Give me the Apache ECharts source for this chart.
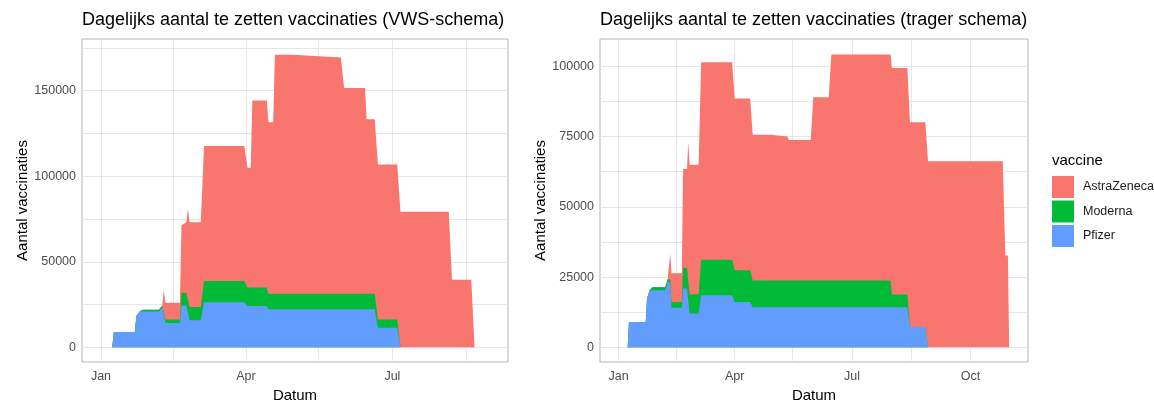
<!DOCTYPE html>
<html><head><meta charset="utf-8">
<script src="https://cdn.jsdelivr.net/npm/echarts@6/dist/echarts.min.js"></script>
<style>html,body{margin:0;padding:0;background:#fff}#c{width:1154px;height:400px}</style>
</head><body><div id="c"></div>
<script>
// ---------- data ----------
const seriesNames = ['Pfizer', 'Moderna', 'AstraZeneca'];   // stacking order (bottom -> top)
const legendOrder = ['AstraZeneca', 'Moderna', 'Pfizer'];
const seriesColors = ['#619CFF', '#00BA38', '#F8766D'];

const titles = ['Dagelijks aantal te zetten vaccinaties (VWS-schema)', 'Dagelijks aantal te zetten vaccinaties (trager schema)'];
const xTitle = 'Datum';
const yTitle = 'Aantal vaccinaties';
const legendTitle = 'vaccine';
const monthNames = ['Jan','Feb','Mar','Apr','May','Jun','Jul','Aug','Sep','Oct','Nov','Dec'];

// VWS-schema
const vwsDates   = ['2021-01-01','2021-01-08','2021-01-09','2021-01-22','2021-01-23','2021-01-25','2021-01-26','2021-01-27','2021-02-06','2021-02-08','2021-02-09','2021-02-10','2021-02-19','2021-02-20','2021-02-23','2021-02-24','2021-02-25','2021-03-04','2021-03-06','2021-03-31','2021-04-02','2021-04-04','2021-04-05','2021-04-14','2021-04-15','2021-04-18','2021-04-19','2021-04-30','2021-05-01','2021-05-14','2021-05-15','2021-05-30','2021-06-01','2021-06-14','2021-06-15','2021-06-20','2021-06-22','2021-07-04','2021-07-06','2021-08-05','2021-08-07','2021-08-19','2021-08-21','2021-08-29'];
const vwsPfizer  = [0,0,8900,8900,18300,21000,21000,21000,21000,23400,23400,14200,14200,24500,24500,24500,15750,15750,26400,26400,24100,24100,24100,24100,22200,22200,22200,22200,22200,22200,22200,22200,22200,22200,22200,22200,11500,11500,0,0,0,0,0,0];
const vwsModerna = [0,0,0,0,0,0,0,1000,1000,1000,1000,2100,2100,7400,7400,7400,7750,7750,12300,12300,10900,10900,10900,10900,9100,9100,9100,9100,9100,9100,9100,9100,9100,9100,9100,9100,4700,4700,0,0,0,0,0,0];
const vwsAstra   = [0,0,0,0,0,0,0,0,0,0,8900,9700,9700,39300,41200,49100,49600,49600,78900,78900,69900,69900,109200,109200,100200,100200,139700,139700,138900,138900,138100,138100,120300,120300,102000,102000,90600,90600,79200,79200,39500,39500,0,0];

// trager schema
const tragerDates   = ['2021-01-01','2021-01-08','2021-01-09','2021-01-22','2021-01-23','2021-01-25','2021-01-26','2021-01-27','2021-02-06','2021-02-08','2021-02-10','2021-02-11','2021-02-19','2021-02-20','2021-02-23','2021-02-24','2021-02-25','2021-03-04','2021-03-06','2021-03-30','2021-04-01','2021-04-13','2021-04-15','2021-04-29','2021-04-30','2021-05-12','2021-05-13','2021-05-30','2021-06-01','2021-06-13','2021-06-15','2021-07-31','2021-08-01','2021-08-13','2021-08-15','2021-08-27','2021-08-29','2021-10-26','2021-10-28','2021-10-30','2021-10-31'];
const tragerPfizer  = [0,0,9000,9000,17300,20300,20300,20300,20300,23200,23200,14100,14100,20900,20900,20900,12000,12000,18500,18500,16100,16100,14300,14300,14300,14300,14300,14300,14300,14300,14300,14300,14300,14300,7200,7200,0,0,0,0,0];
const tragerModerna = [0,0,0,0,0,0,0,1100,1100,1000,1000,2000,2000,7400,7400,7400,6850,6850,12700,12700,11300,11300,9500,9500,9500,9500,9500,9500,9500,9500,9500,9500,4500,4500,0,0,0,0,0,0,0];
const tragerAstra   = [0,0,0,0,0,0,0,0,0,0,9100,10300,10300,35200,35200,44700,46150,46150,70300,70300,61200,61200,51900,51900,51200,51200,50000,50000,65200,65200,80400,80400,80600,80600,72900,72900,66200,66200,32700,32700,0];

// axis breaks
const vwsXLabels    = ['2021-01-01','2021-04-01','2021-07-01'];
const vwsXGrid      = ['2021-01-01','2021-02-15','2021-04-01','2021-05-16','2021-07-01','2021-08-16'];
const tragerXLabels = ['2021-01-01','2021-04-01','2021-07-01','2021-10-01'];
const tragerXGrid   = ['2021-01-01','2021-02-15','2021-04-01','2021-05-16','2021-07-01','2021-08-16','2021-10-01'];
const vwsYLabels    = [0, 50000, 100000, 150000];
const vwsYGrid      = [0, 25000, 50000, 75000, 100000, 125000, 150000, 175000];
const tragerYLabels = [0, 25000, 50000, 75000, 100000];
const tragerYGrid   = [0, 12500, 25000, 37500, 50000, 62500, 75000, 87500, 100000];

// ---------- chart ----------
const FONT = "'Liberation Sans', Arial, sans-serif";
const DAY = 86400000;
const ts = s => Date.UTC(+s.slice(0, 4), +s.slice(5, 7) - 1, +s.slice(8, 10));
const jan1 = ts('2021-01-01');

const panels = [
  {dates: vwsDates, vals: [vwsPfizer, vwsModerna, vwsAstra], xl: vwsXLabels, xg: vwsXGrid, yl: vwsYLabels, yg: vwsYGrid,
   xmin: jan1 - 11.8 * DAY, xmax: jan1 + 252.8 * DAY, ymin: -8580, ymax: 180180,
   grid: {left: 82, top: 39, width: 426, height: 323}},
  {dates: tragerDates, vals: [tragerPfizer, tragerModerna, tragerAstra], xl: tragerXLabels, xg: tragerXGrid, yl: tragerYLabels, yg: tragerYGrid,
   xmin: jan1 - 14.5 * DAY, xmax: jan1 + 317.6 * DAY, ymin: -5226, ymax: 109746,
   grid: {left: 600, top: 39, width: 428, height: 323}}
];

const gridColor = '#e6e6e6';
const option = {
  animation: false,
  backgroundColor: '#ffffff',
  textStyle: {fontFamily: FONT},
  title: [
    {text: titles[0], left: 82, top: 11, padding: 0, textStyle: {fontSize: 18, fontWeight: 'normal', color: '#000', fontFamily: FONT}},
    {text: titles[1], left: 600, top: 11, padding: 0, textStyle: {fontSize: 18, fontWeight: 'normal', color: '#000', fontFamily: FONT}},
    {text: legendTitle, left: 1052, top: 153, padding: 0, textStyle: {fontSize: 15, fontWeight: 'normal', color: '#000', fontFamily: FONT}}
  ],
  legend: {
    data: legendOrder, orient: 'vertical', left: 1052, top: 176, padding: 0,
    itemWidth: 22, itemHeight: 22, itemGap: 2.5, icon: 'rect',
    textStyle: {fontSize: 12.5, color: '#1a1a1a', fontFamily: FONT, padding: [0, 0, 0, 4]},
    selectedMode: false
  },
  grid: panels.map(p => Object.assign({show: true, borderColor: '#b3b3b3', borderWidth: 1, backgroundColor: '#fff',
    containLabel: false, outerBoundsMode: 'none'}, p.grid)),
  xAxis: panels.map((p, i) => ({
    type: 'value', gridIndex: i, min: p.xmin, max: p.xmax,
    axisLine: {show: false},
    axisTick: {show: false, customValues: p.xg.map(ts)},
    splitLine: {show: true, lineStyle: {color: gridColor, width: 1}},
    axisLabel: {customValues: p.xl.map(ts), formatter: v => monthNames[new Date(v).getUTCMonth()],
      color: '#4d4d4d', fontSize: 12.5, margin: 8, fontFamily: FONT, hideOverlap: false},
    name: xTitle, nameLocation: 'middle', nameGap: 20,
    nameTextStyle: {fontSize: 15, color: '#000', fontFamily: FONT}
  })),
  yAxis: panels.map((p, i) => ({
    type: 'value', gridIndex: i, min: p.ymin, max: p.ymax,
    axisLine: {show: false},
    axisTick: {show: false, customValues: p.yg},
    splitLine: {show: true, lineStyle: {color: gridColor, width: 1}},
    axisLabel: {customValues: p.yl, formatter: v => String(v), color: '#4d4d4d', fontSize: 12.5, margin: 6, fontFamily: FONT},
    name: yTitle, nameLocation: 'middle', nameGap: 51, nameRotate: 90,
    nameTextStyle: {fontSize: 15, color: '#000', fontFamily: FONT}
  })),
  series: []
};

// stacked areas: each layer is drawn from 0 up to the running total,
// top layer first so the lower layers are painted over it.
panels.forEach((p, i) => {
  const cum = p.vals.map((_, k) => p.dates.map((d, j) => {
    let s = 0;
    for (let m = 0; m <= k; m++) s += p.vals[m][j];
    return s;
  }));
  [2, 1, 0].forEach(k => {
    option.series.push({
      name: seriesNames[k], type: 'line', xAxisIndex: i, yAxisIndex: i,
      showSymbol: false, symbol: 'none', silent: true,
      lineStyle: {width: 0}, color: seriesColors[k],
      areaStyle: {color: seriesColors[k], opacity: 1, origin: 0},
      data: p.dates.map((d, j) => [ts(d), cum[k][j]])
    });
  });
});

const chart = echarts.init(document.getElementById('c'), null, {renderer: 'canvas'});
chart.setOption(option);
</script>
</body></html>
